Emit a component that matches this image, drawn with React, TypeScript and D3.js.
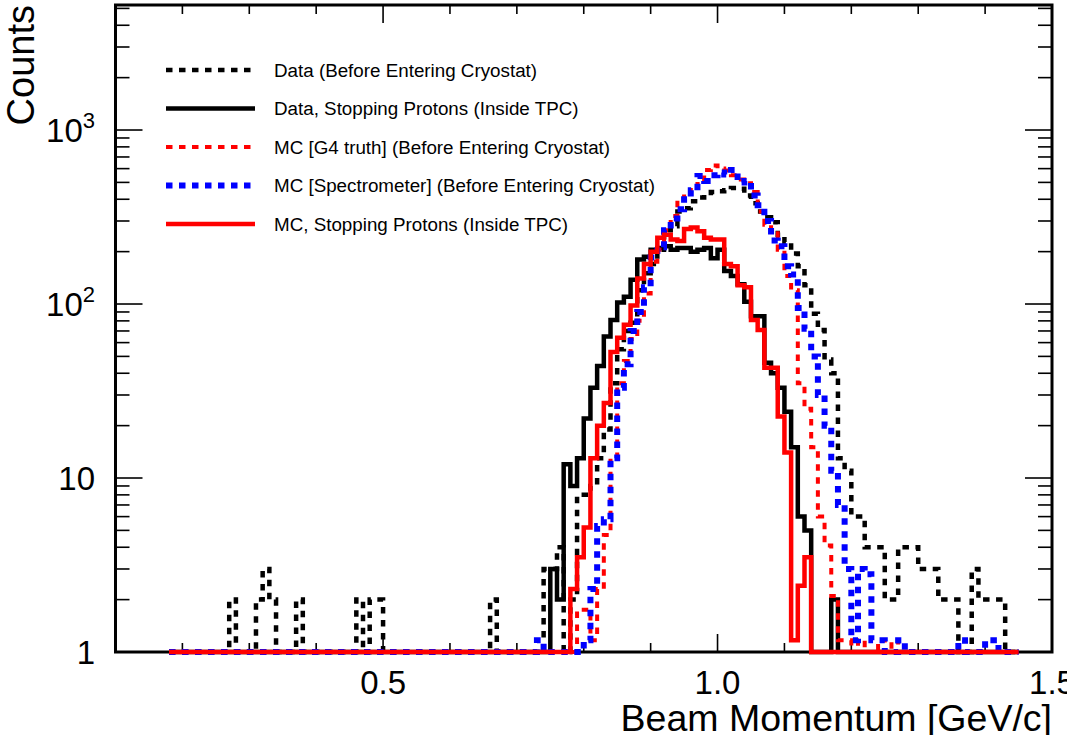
import React, { useEffect, useRef } from "react";
import * as d3 from "d3";

// ---------- data (bins of 0.01 GeV/c from 0.18 to 1.45) ----------
const BIN_LOW = 0.18;
const BIN_WIDTH = 0.01;

const dataBeforeCryostat: number[] = [
  0, 0, 0, 0, 0, 0, 0, 0, 0, 2,
  0, 0, 0, 2, 3, 2, 0, 0, 0, 2,
  0, 0, 0, 0, 0, 0, 0, 0, 2, 1,
  2, 2, 0, 0, 0, 0, 0, 0, 0, 0,
  0, 0, 0, 0, 0, 0, 0, 0, 2, 0,
  0, 0, 0, 0, 0, 0, 3, 3, 4, 1,
  2, 8, 8, 9, 13, 19, 35, 55, 70, 78,
  120, 150, 170, 205, 265, 280, 340, 355, 390, 410,
  435, 440, 445, 450, 465, 460, 420, 380, 340, 315,
  295, 250, 227, 195, 165, 128, 88, 71, 48, 40,
  13, 11, 6, 6, 4, 4, 4, 2, 2, 4,
  4, 4, 3, 3, 3, 2, 2, 2, 1, 1,
  3, 2, 2, 2, 2, 0, 0,
];

const dataStoppingTPC: number[] = [
  0, 0, 0, 0, 0, 0, 0, 0, 0, 0,
  0, 0, 0, 0, 0, 0, 0, 0, 0, 0,
  0, 0, 0, 0, 0, 0, 0, 0, 0, 0,
  0, 0, 0, 0, 0, 0, 0, 0, 0, 0,
  0, 0, 0, 0, 0, 0, 0, 0, 0, 0,
  0, 0, 0, 0, 0, 0, 0, 3, 2, 12,
  9, 13, 22, 33, 44, 65, 81, 102, 110, 138,
  180, 187, 205, 210, 215, 205, 210, 210, 200, 205,
  210, 183, 205, 155, 145, 130, 103, 85, 85, 46,
  40, 33, 24, 15, 6, 5, 0, 0, 0, 2,
  0, 0, 0, 0, 0, 0, 0, 0, 0, 0,
  0, 0, 0, 0, 0, 0, 0, 0, 0, 0,
  0, 0, 0, 0, 0, 0, 0,
];

const mcG4TruthBeforeCryostat: number[] = [
  0, 0, 0, 0, 0, 0, 0, 0, 0, 0,
  0, 0, 0, 0, 0, 0, 0, 0, 0, 0,
  0, 0, 0, 0, 0, 0, 0, 0, 0, 0,
  0, 0, 0, 0, 0, 0, 0, 0, 0, 0,
  0, 0, 0, 0, 0, 0, 0, 0, 0, 0,
  0, 0, 0, 0, 0, 0, 0, 0, 0, 0,
  0, 1.75, 1.75, 1.17, 2.3, 4.7, 13, 35, 47, 63,
  80, 115, 175, 205, 265, 320, 400, 440, 465, 490,
  590, 625, 600, 585, 550, 520, 495, 440, 340, 285,
  255, 205, 145, 120, 35, 25, 15, 6, 4.1, 2.1,
  1.17, 1.17, 0, 1.17, 0, 0, 1.17, 0, 1.17, 0,
  0, 0, 0, 0, 0, 0, 0, 0, 0, 0,
  0, 0, 0, 0, 0, 0, 0,
];

const mcSpectrometerBeforeCryostat: number[] = [
  0, 0, 0, 0, 0, 0, 0, 0, 0, 0,
  0, 0, 0, 0, 0, 0, 0, 0, 0, 0,
  0, 0, 0, 0, 0, 0, 0, 0, 0, 0,
  0, 0, 0, 0, 0, 0, 0, 0, 0, 0,
  0, 0, 0, 0, 0, 0, 0, 0, 0, 0,
  0, 0, 0, 0, 0, 1.17, 0, 0, 0, 0,
  0, 0, 1.17, 2.3, 5.3, 5.8, 13, 33, 45, 70,
  90, 125, 185, 212, 265, 310, 350, 400, 450, 545,
  510, 550, 570, 555, 590, 500, 510, 420, 370, 300,
  232, 215, 165, 148, 95, 72, 50, 30, 20, 11,
  7, 3, 1.17, 3, 2.8, 1.17, 1.17, 0, 0, 1.17,
  0, 0, 0, 0, 0, 0, 0, 0, 1.17, 0,
  0, 0, 1.17, 1.17, 0, 0, 0,
];

const mcStoppingTPC: number[] = [
  0, 0, 0, 0, 0, 0, 0, 0, 0, 0,
  0, 0, 0, 0, 0, 0, 0, 0, 0, 0,
  0, 0, 0, 0, 0, 0, 0, 0, 0, 0,
  0, 0, 0, 0, 0, 0, 0, 0, 0, 0,
  0, 0, 0, 0, 0, 0, 0, 0, 0, 0,
  0, 0, 0, 0, 0, 0, 0, 0, 0, 0,
  2.3, 3.5, 5.2, 13, 20, 27, 53, 64, 76, 98,
  140, 170, 200, 240, 250, 235, 230, 270, 275, 262,
  240, 235, 235, 170, 165, 128, 125, 81, 71, 43,
  43, 22.6, 14, 1.17, 2.4, 3.5, 0, 0, 0, 0,
  0, 0, 0, 0, 0, 0, 0, 0, 0, 0,
  0, 0, 0, 0, 0, 0, 0, 0, 0, 0,
  0, 0, 0, 0, 0, 0, 0,
];

const legendLabels: string[] = [
  "Data (Before Entering Cryostat)",
  "Data, Stopping Protons (Inside TPC)",
  "MC [G4 truth] (Before Entering Cryostat)",
  "MC [Spectrometer] (Before Entering Cryostat)",
  "MC, Stopping Protons (Inside TPC)",
];

const xMajorTicks: number[] = [0.5, 1.0, 1.5];
const xTickLabels: string[] = ["0.5", "1.0", "1.5"];
const yMajorTicks: number[] = [1, 10, 100, 1000];
const X_DOMAIN: [number, number] = [0.1, 1.5];
const Y_DOMAIN: [number, number] = [1, 5230];

// ---------- layout / styles ----------
const W = 1067;
const H = 735;
const FRAME = { left: 115.5, right: 1052, top: 5, bottom: 652 };
const FONT = "'Liberation Sans', Arial, Helvetica, sans-serif";

type Style = { color: string; width: number; dash: string | null };
const seriesStyles: Style[] = [
  { color: "#000000", width: 4.5, dash: "6.5 6.5" },
  { color: "#000000", width: 4.5, dash: null },
  { color: "#ff0000", width: 4, dash: "6.5 6.5" },
  { color: "#0000ff", width: 6, dash: "6.5 6.5" },
  { color: "#ff0000", width: 4.5, dash: null },
];

export default function App() {
  const ref = useRef<SVGSVGElement | null>(null);

  useEffect(() => {
    const svg = d3.select(ref.current);
    svg.selectAll("*").remove();

    const x = d3.scaleLinear().domain(X_DOMAIN).range([FRAME.left, FRAME.right]);
    const y = d3.scaleLog().domain(Y_DOMAIN).range([FRAME.bottom, FRAME.top]);

    svg.append("rect").attr("width", W).attr("height", H).attr("fill", "#fff");

    // frame
    svg
      .append("rect")
      .attr("x", FRAME.left)
      .attr("y", FRAME.top)
      .attr("width", FRAME.right - FRAME.left)
      .attr("height", FRAME.bottom - FRAME.top)
      .attr("fill", "none")
      .attr("stroke", "#000")
      .attr("stroke-width", 3);

    const ticks = svg.append("g").attr("stroke", "#000").attr("stroke-width", 1.6);

    // x ticks (bottom and top)
    const xMinor = d3.range(2, 15).map((i) => i / 10);
    xMinor.forEach((v) => {
      const isMajor = xMajorTicks.some((m) => Math.abs(m - v) < 1e-6);
      const len = isMajor ? 18 : 9;
      const xx = x(v);
      ticks.append("line").attr("x1", xx).attr("x2", xx).attr("y1", FRAME.bottom).attr("y2", FRAME.bottom - len);
      ticks.append("line").attr("x1", xx).attr("x2", xx).attr("y1", FRAME.top).attr("y2", FRAME.top + len);
    });

    // y ticks (left and right)
    const yTickVals: number[] = [];
    for (let dec = 1; dec <= 1000; dec *= 10) {
      for (let m = 1; m <= 9; m++) {
        const v = dec * m;
        if (v > 1 && v < Y_DOMAIN[1]) yTickVals.push(v);
      }
    }
    yTickVals.forEach((v) => {
      const isMajor = yMajorTicks.includes(v);
      const len = isMajor ? 27 : 14;
      const yy = y(v);
      ticks.append("line").attr("x1", FRAME.left).attr("x2", FRAME.left + len).attr("y1", yy).attr("y2", yy);
      ticks.append("line").attr("x1", FRAME.right).attr("x2", FRAME.right - len).attr("y1", yy).attr("y2", yy);
    });

    // histograms
    const allSeries = [
      dataBeforeCryostat,
      dataStoppingTPC,
      mcG4TruthBeforeCryostat,
      mcSpectrometerBeforeCryostat,
      mcStoppingTPC,
    ];
    const line = d3
      .line<[number, number]>()
      .x((d) => x(d[0]))
      .y((d) => y(Math.max(d[1], 1)))
      .curve(d3.curveStepAfter);

    allSeries.forEach((vals, si) => {
      const pts: [number, number][] = vals.map((v, i) => [BIN_LOW + i * BIN_WIDTH, v]);
      pts.push([BIN_LOW + vals.length * BIN_WIDTH, vals[vals.length - 1]]);
      const st = seriesStyles[si];
      const p = svg
        .append("path")
        .attr("d", line(pts) as string)
        .attr("fill", "none")
        .attr("stroke", st.color)
        .attr("stroke-width", st.width)
        .attr("stroke-linejoin", "miter");
      if (st.dash) p.attr("stroke-dasharray", st.dash);
    });

    // legend
    const legendRowY = [70, 108.5, 147, 185.5, 224];
    legendLabels.forEach((label, i) => {
      const st = seriesStyles[i];
      const ly = legendRowY[i];
      const l = svg
        .append("line")
        .attr("x1", 166)
        .attr("x2", 255)
        .attr("y1", ly)
        .attr("y2", ly)
        .attr("stroke", st.color)
        .attr("stroke-width", st.width);
      if (st.dash) l.attr("stroke-dasharray", st.dash);
      svg
        .append("text")
        .attr("x", 274)
        .attr("y", ly)
        .attr("dy", "0.36em")
        .attr("font-family", FONT)
        .attr("font-size", 18.8)
        .attr("fill", "#000")
        .text(label);
    });

    // x tick labels
    xMajorTicks.forEach((v, i) => {
      svg
        .append("text")
        .attr("x", x(v))
        .attr("y", 694)
        .attr("text-anchor", "middle")
        .attr("font-family", FONT)
        .attr("font-size", 33)
        .attr("fill", "#000")
        .text(xTickLabels[i]);
    });

    // y tick labels
    yMajorTicks.forEach((v) => {
      const t = svg
        .append("text")
        .attr("x", 95)
        .attr("y", y(v) + 12)
        .attr("text-anchor", "end")
        .attr("font-family", FONT)
        .attr("font-size", 33)
        .attr("fill", "#000");
      const exp = Math.round(Math.log10(v));
      if (exp <= 1) {
        t.text(String(v));
      } else {
        t.append("tspan").text("10");
        t.append("tspan").attr("font-size", 22).attr("dy", -14).text(String(exp));
      }
    });

    // axis titles
    svg
      .append("text")
      .attr("x", FRAME.right)
      .attr("y", 731)
      .attr("text-anchor", "end")
      .attr("font-family", FONT)
      .attr("font-size", 37.5)
      .attr("fill", "#000")
      .text("Beam Momentum [GeV/c]");

    svg
      .append("text")
      .attr("transform", `translate(34, ${FRAME.top}) rotate(-90)`)
      .attr("text-anchor", "end")
      .attr("font-family", FONT)
      .attr("font-size", 38)
      .attr("fill", "#000")
      .text("Counts");
  }, []);

  return (
    <div style={{ position: "fixed", left: 0, top: 0, width: W, height: H, overflow: "hidden", background: "#fff" }}>
      <svg ref={ref} width={W} height={H} style={{ display: "block" }} />
    </div>
  );
}
